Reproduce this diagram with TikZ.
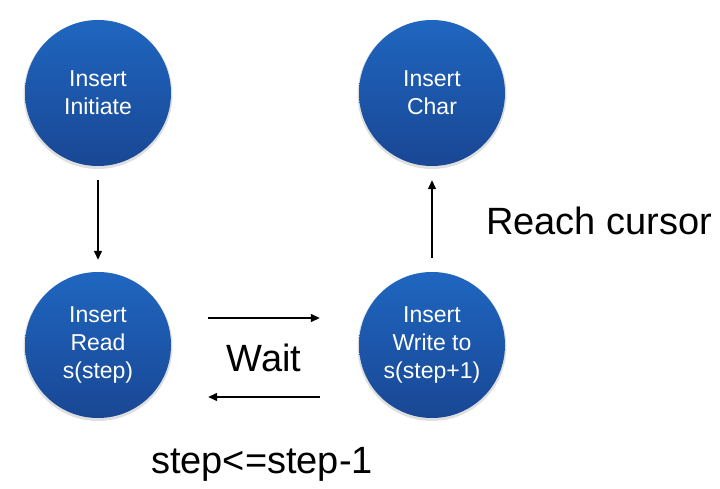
\documentclass[tikz,border=0pt]{standalone}
\usepackage{fontspec}
\setmainfont{Liberation Sans}
\usetikzlibrary{arrows.meta,shadows}
\definecolor{balltop}{RGB}{31,102,192}
\definecolor{ballbot}{RGB}{25,71,148}
\tikzset{
  state/.style={circle, minimum size=146pt, inner sep=0pt, align=center,
    top color=balltop, bottom color=ballbot, text=white,
    font=\fontsize{23}{28}\selectfont,
    drop shadow={opacity=0.25, shadow xshift=0pt, shadow yshift=-1.5pt, shadow scale=1.02}},
  arr/.style={-{Triangle[length=9pt,width=8pt]}, line width=1.3pt},
  lbl/.style={font=\fontsize{38}{42}\selectfont, anchor=base}
}
\begin{document}
\begin{tikzpicture}[x=1pt,y=-1pt]
\useasboundingbox (0,0) rectangle (720,489);
\node[state] (init) at (98,93) {Insert\\Initiate};
\node[state] (char) at (432,93) {Insert\\Char};
\node[state] (read) at (98,345) {Insert\\Read\\s(step)};
\node[state] (write) at (432,345) {Insert\\Write to\\s(step+1)};
\draw[arr, shorten <=14pt, shorten >=12pt] (init) -- (read);
\draw[arr, shorten <=14pt, shorten >=14pt] (write) -- (char);
\draw[arr] ([xshift=37pt,yshift=27pt]read.east) -- ([xshift=-39pt,yshift=27pt]write.west);
\draw[arr] ([xshift=-39pt,yshift=-52pt]write.west) -- ([xshift=37pt,yshift=-52pt]read.east);
\node[lbl] (reach) at (599,235) {Reach cursor};
\node[lbl] (wait) at (264,371) {Wait};
\node[lbl] (dec) at (262,473) {step<=step-1};
\end{tikzpicture}
\end{document}
